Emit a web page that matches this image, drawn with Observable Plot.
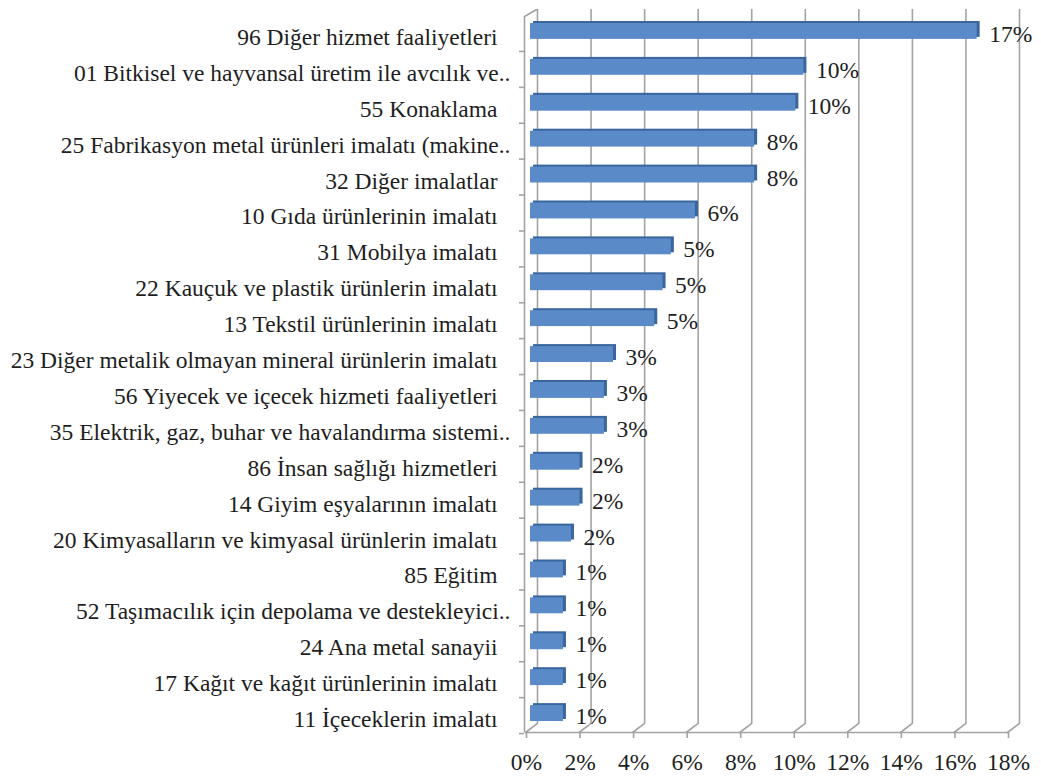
<!DOCTYPE html>
<html>
<head>
<meta charset="utf-8">
<script src="https://cdn.jsdelivr.net/npm/d3@7"></script>
<script src="https://cdn.jsdelivr.net/npm/@observablehq/plot@0.6"></script>
<style>
  html, body { margin: 0; padding: 0; background: #fff; }
</style>
</head>
<body>
<div id="chart"></div>
<script>
const categories = [
  "96 Diğer hizmet faaliyetleri",
  "01 Bitkisel ve hayvansal üretim ile avcılık ve..",
  "55 Konaklama",
  "25 Fabrikasyon metal ürünleri imalatı (makine..",
  "32 Diğer imalatlar",
  "10 Gıda ürünlerinin imalatı",
  "31 Mobilya imalatı",
  "22 Kauçuk ve plastik ürünlerin imalatı",
  "13 Tekstil ürünlerinin imalatı",
  "23 Diğer metalik olmayan mineral ürünlerin imalatı",
  "56 Yiyecek ve içecek hizmeti faaliyetleri",
  "35 Elektrik, gaz, buhar ve havalandırma sistemi..",
  "86 İnsan sağlığı hizmetleri",
  "14 Giyim eşyalarının imalatı",
  "20 Kimyasalların ve kimyasal ürünlerin imalatı",
  "85 Eğitim",
  "52 Taşımacılık için depolama ve destekleyici..",
  "24 Ana metal sanayii",
  "17 Kağıt ve kağıt ürünlerinin imalatı",
  "11 İçeceklerin imalatı"
];
const values = [16.68, 10.21, 9.91, 8.37, 8.37, 6.16, 5.26, 4.95, 4.64, 3.10,
                 2.76, 2.76, 1.85, 1.85, 1.53, 1.23, 1.23, 1.23, 1.23, 1.23];
const xTicks = [0, 2, 4, 6, 8, 10, 12, 14, 16, 18];

const data = categories.map((name, i) => ({name, value: values[i]}));
const isTrunc = d => d.name.endsWith("..");

const font = "'Liberation Serif', 'Times New Roman', Times, serif";
const grid = "#a3a3a3";
const textColor = "#1e1e1e";
const fs = 23.5;

const chart = Plot.plot({
  width: 1041,
  height: 776,
  marginLeft: 530,
  marginRight: 29,
  marginTop: 13,
  marginBottom: 45,
  style: {fontFamily: font, fontSize: fs + "px", color: textColor, background: "#fff"},
  x: {domain: [0, 18]},
  y: {domain: categories, padding: 0, round: false},
  marks: [
    // back wall gridlines
    Plot.ruleX(xTicks, {stroke: grid, strokeWidth: 1.6, dx: 7, dy: -8, insetTop: 4}),
    // floor diagonals
    Plot.vector(xTicks, {x: d => d, frameAnchor: "bottom", dx: -5, dy: 1, length: 15, rotate: 53, anchor: "start", r: 0, stroke: grid, strokeWidth: 1.6}),
    // front floor line
    Plot.frame({anchor: "bottom", dx: -5, dy: 1, stroke: grid, strokeWidth: 1.6}),
    // left wall front edge
    Plot.ruleX([0], {dx: -6, insetTop: 2, dy: 1, stroke: grid, strokeWidth: 1.6}),
    Plot.vector([0], {x: d => d, frameAnchor: "top", dx: -6, dy: 3, length: 14, rotate: 60, anchor: "start", r: 0, stroke: grid, strokeWidth: 1.6}),
    // x axis
    Plot.axisX(xTicks, {tickSize: 6, tickPadding: 15, dx: -4, dy: 1, tickFormat: d => d + "%", label: null,
      stroke: grid, strokeWidth: 1.6, fill: textColor, fontSize: fs, fontFamily: font}),
    // y axis ticks at category boundaries
    Plot.axisY({tickSize: 5, tickFormat: () => "", dx: -6, dy: 20, label: null, stroke: grid, strokeWidth: 1.6}),
    // bars: 3D side/top then front face
    Plot.barX(data, {x: "value", y: "name", insetTop: 10, insetBottom: 10, fill: "#3a669e", dx: 3, dy: -2}),
    Plot.barX(data, {x: "value", y: "name", insetTop: 10, insetBottom: 10, fill: "#5a8bc8"}),
    // category labels
    Plot.text(data, {filter: isTrunc, y: "name", text: "name", frameAnchor: "left", textAnchor: "end",
      dx: -20, dy: 6, fill: textColor, fontSize: fs, fontFamily: font}),
    Plot.text(data, {filter: d => !isTrunc(d), y: "name", text: "name", frameAnchor: "left", textAnchor: "end",
      dx: -33, dy: 6, fill: textColor, fontSize: fs, fontFamily: font}),
    // value labels
    Plot.text(data, {x: "value", y: "name", text: d => Math.round(d.value) + "%", textAnchor: "start",
      dx: 12, dy: 3, fill: textColor, fontSize: fs, fontFamily: font})
  ]
});
document.getElementById("chart").appendChild(chart);
</script>
</body>
</html>
